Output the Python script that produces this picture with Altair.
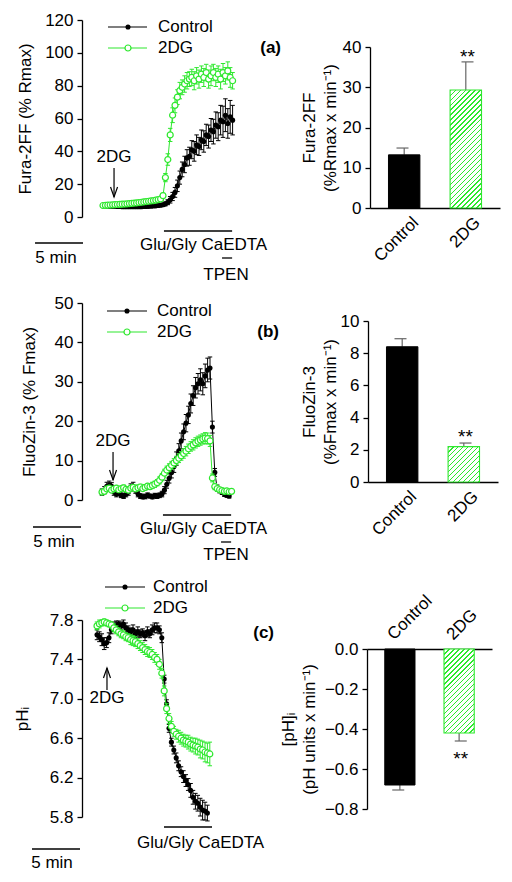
import altair as alt
import numpy as np
import pandas as pd

FONT = "Liberation Sans"
GREEN = "#2ee82e"
FS = 17
M = 8            # page margin (page px -> plot px)
W, H = 496, 866
DT = 0.25        # sampling interval of the traces (min)

# ---------------- (a) Fura-2FF (% Rmax) ----------------
a_ctrl = [6.8, 6.7, 6.6, 6.6, 6.5, 6.5, 6.4, 6.4, 6.3, 6.3, 6.3, 6.2, 6.2, 6.2, 6.2, 6.3, 6.3, 6.4, 6.4, 6.5,
          6.6, 6.7, 6.8, 7.0, 7.2,
          7.5, 8.0, 9.0, 10.5, 12.5, 15, 19, 24, 29, 32, 36, 37, 41, 40, 44, 43, 47, 46, 50, 49,
          53, 52, 56, 55, 59, 58, 62, 57, 61, 59]
a_ctrl_err = [0.5, 0.6, 0.5, 0.6, 0.5, 0.5, 0.6, 0.5, 0.6, 0.5, 0.5, 0.6, 0.5, 0.6, 0.5, 0.5, 0.6, 0.5, 0.6, 0.6,
              0.7, 0.7, 0.8, 0.8, 0.9,
              1.0, 1.2, 1.5, 2.0, 2.5, 3.0, 3.5, 4.0, 4.5, 5.0, 5.0, 5.5, 5.5, 6.0, 6.0, 5.5, 6.0, 6.5, 6.5, 7.0,
              7.0, 7.5, 8.0, 8.5, 9.0, 9.5, 10, 9.0, 10, 9.0]
a_dg = [7.0, 7.1, 7.2, 7.3, 7.4, 7.5, 7.6, 7.7, 7.8, 7.9, 8.0, 8.2, 8.3, 8.5, 8.6, 8.8, 9.0, 9.2, 9.4, 9.6,
        9.8, 10.0, 10.3, 10.6, 11.0,
        13, 24, 35, 50, 62, 68, 73, 77, 79, 81, 83, 84, 85, 83, 86, 84, 87, 85, 88, 84,
        86, 88, 85, 87, 84, 88, 86, 89, 85, 83]
a_dg_err = [0.5, 0.5, 0.6, 0.5, 0.6, 0.5, 0.6, 0.6, 0.5, 0.6, 0.6, 0.7, 0.6, 0.7, 0.7, 0.6, 0.7, 0.7, 0.8, 0.7,
            0.8, 0.8, 0.9, 0.9, 1.0,
            1.5, 2.5, 3.5, 4.0, 4.5, 4.5, 4.5, 5.0, 4.5, 5.0, 5.0, 4.5, 5.0, 5.5, 5.0, 5.5, 5.0, 5.5, 5.0, 5.5,
            6.0, 5.0, 5.5, 5.0, 6.0, 5.5, 5.0, 5.5, 6.0, 5.0]

# ---------------- (b) FluoZin-3 (% Fmax) ----------------
b_ctrl = [2.0, 2.5, 3.5, 3.8, 3.5, 2.0, 1.5, 1.8, 1.2, 1.0, 1.5, 2.0, 3.2, 3.5, 2.5, 1.5, 1.0, 0.8, 0.9, 1.2,
          1.0, 0.8, 1.1, 1.0, 1.2,
          1.5, 2.5, 4.0, 5.5, 7.0, 8.5, 10.5, 12.5, 15.0, 17.3, 19.5, 21.6, 24.5, 26.5, 28.5, 29.5, 30.5,
          29.5, 31.5, 33.0, 33.5, 18.5, 7.0, 3.0, 2.5, 2.0, 1.5, 1.2, 1.0]
b_ctrl_err = [0.8, 0.9, 1.0, 1.0, 0.9, 0.8, 0.7, 0.7, 0.6, 0.6, 0.7, 0.8, 0.9, 1.0, 0.8, 0.7, 0.6, 0.5, 0.6, 0.6,
              0.5, 0.5, 0.6, 0.6, 0.6,
              0.7, 0.9, 1.0, 1.2, 1.4, 1.5, 1.7, 1.8, 2.0, 2.0, 2.2, 2.2, 2.4, 2.5, 2.6, 2.6, 2.8, 2.8, 3.0,
              3.0, 2.8, 1.5, 1.0, 0.8, 0.7, 0.6, 0.6, 0.5, 0.5]
b_dg = [2.0, 2.2, 2.8, 3.0, 2.5, 2.8, 3.0, 2.6, 2.9, 3.1, 2.7, 2.5, 3.0, 3.2, 2.8, 3.1, 3.3, 2.9, 3.2, 3.5,
        3.4, 3.7, 4.0, 4.4, 5.0,
        5.8, 6.8, 7.6, 8.2, 8.8, 9.4, 10.0, 10.6, 11.2, 11.8, 12.4, 13.0, 13.6, 14.0, 14.5, 14.9, 15.2, 15.5,
        15.7, 15.6, 15.0, 5.6, 3.4, 2.9, 2.6, 2.4, 2.2, 2.3, 2.1, 2.2]
b_dg_err = [0.5, 0.6, 0.6, 0.7, 0.6, 0.6, 0.7, 0.6, 0.6, 0.7, 0.6, 0.6, 0.7, 0.7, 0.6, 0.7, 0.7, 0.6, 0.7, 0.7,
            0.7, 0.8, 0.8, 0.8, 0.9,
            0.9, 1.0, 1.0, 1.0, 1.0, 1.1, 1.1, 1.1, 1.1, 1.2, 1.2, 1.2, 1.2, 1.3, 1.3, 1.3, 1.3, 1.3, 1.4, 1.4,
            1.4, 1.0, 0.8, 0.7, 0.6, 0.6, 0.6, 0.5, 0.5, 0.5]

# ---------------- (c) pHi ----------------
c_ctrl = [7.65, 7.63, 7.6, 7.56, 7.57, 7.62, 7.7, 7.74, 7.75, 7.76, 7.74, 7.76, 7.72, 7.7, 7.68, 7.7, 7.66, 7.68,
          7.66, 7.67, 7.64, 7.68, 7.66, 7.7, 7.72,
          7.72, 7.7, 7.62, 7.2, 6.95, 6.7, 6.56, 6.48, 6.4, 6.32, 6.26, 6.21, 6.17, 6.13, 6.07, 6.0, 5.96, 5.94,
          5.9, 5.87, 5.86, 5.84]
c_ctrl_err = [0.05, 0.05, 0.06, 0.06, 0.05, 0.05, 0.04, 0.04, 0.04, 0.03, 0.04, 0.04, 0.05, 0.04, 0.04, 0.05,
              0.04, 0.05, 0.04, 0.04, 0.05, 0.05, 0.04, 0.05, 0.05,
              0.05, 0.04, 0.05, 0.04, 0.04, 0.04, 0.04, 0.04, 0.05, 0.05, 0.05, 0.06, 0.06, 0.06, 0.07, 0.07,
              0.08, 0.08, 0.09, 0.1, 0.09, 0.08]
c_dg = [7.74, 7.76, 7.77, 7.78, 7.77, 7.76, 7.75, 7.72, 7.7, 7.68, 7.66, 7.65, 7.63, 7.62, 7.6, 7.59, 7.58, 7.56,
        7.54, 7.52, 7.5, 7.48, 7.47, 7.45, 7.42,
        7.4, 7.35, 7.26, 7.08, 6.9, 6.8, 6.72, 6.67, 6.64, 6.62, 6.6, 6.58, 6.57, 6.56, 6.54, 6.53, 6.52, 6.51,
        6.49, 6.48, 6.46, 6.45, 6.44]
c_dg_err = [0.04, 0.04, 0.03, 0.03, 0.03, 0.03, 0.03, 0.04, 0.04, 0.04, 0.04, 0.04, 0.04, 0.04, 0.05, 0.05,
            0.05, 0.05, 0.05, 0.05, 0.05, 0.05, 0.05, 0.05, 0.05,
            0.05, 0.05, 0.05, 0.05, 0.05, 0.05, 0.05, 0.05, 0.05, 0.06, 0.06, 0.06, 0.06, 0.07, 0.07, 0.07,
            0.08, 0.08, 0.09, 0.09, 0.1, 0.1, 0.12]

# ---------------- bar summaries ----------------
bar_cats = ["Control", "2DG"]
a_bar, a_bar_err = [13.2, 29.3], [1.7, 7.0]
b_bar, b_bar_err = [8.4, 2.2], [0.5, 0.22]
c_bar, c_bar_err = [-0.68, -0.42], [0.025, 0.04]

a_ticks = [0, 20, 40, 60, 80, 100, 120]
b_ticks = [0, 10, 20, 30, 40, 50]
c_ticks = [5.8, 6.2, 6.6, 7.0, 7.4, 7.8]
ab_ticks = [0, 10, 20, 30, 40]
bb_ticks = [0, 2, 4, 6, 8, 10]
cb_ticks = [-0.8, -0.6, -0.4, -0.2, 0.0]

layers = []


def tscale(t0px):
    return alt.Scale(domain=[0, 10], range=[t0px - M, t0px - M + 96])


def lin(dom, px):
    return alt.Scale(domain=dom, range=[px[0] - M, px[1] - M], nice=False, zero=False)


def trace(X, Y, vals, errs, color, filled):
    df = pd.DataFrame({"t": np.arange(len(vals)) * DT, "v": vals, "e": errs})
    df["lo"] = df["v"] - df["e"]
    df["hi"] = df["v"] + df["e"]
    b = alt.Chart(df)
    x = alt.X("t:Q", scale=X, axis=None)
    out = [
        b.mark_rule(color=color, strokeWidth=1).encode(x=x, y=alt.Y("lo:Q", scale=Y, axis=None), y2="hi:Q"),
        b.mark_point(shape="stroke", size=20, color=color, strokeWidth=1, opacity=1).encode(
            x=x, y=alt.Y("hi:Q", scale=Y, axis=None)),
        b.mark_point(shape="stroke", size=20, color=color, strokeWidth=1, opacity=1).encode(
            x=x, y=alt.Y("lo:Q", scale=Y, axis=None)),
        b.mark_line(color=color, strokeWidth=1).encode(x=x, y=alt.Y("v:Q", scale=Y, axis=None)),
    ]
    if filled:
        out.append(b.mark_point(filled=True, color=color, size=26, opacity=1).encode(
            x=x, y=alt.Y("v:Q", scale=Y, axis=None)))
    else:
        out.append(b.mark_point(filled=True, fill="white", stroke=color, strokeWidth=1.2, size=36,
                                opacity=1).encode(x=x, y=alt.Y("v:Q", scale=Y, axis=None)))
    return out


def px_text(rows, align="left", bold=False, size=FS):
    df = pd.DataFrame(rows, columns=["x", "y", "s"])
    df["x"] = df["x"] - M
    df["y"] = df["y"] - M
    return alt.Chart(df).mark_text(align=align, baseline="middle", font=FONT, fontSize=size,
                                   fontWeight="bold" if bold else "normal", color="black").encode(
        x=alt.X("x:Q", scale=None), y=alt.Y("y:Q", scale=None), text="s:N")


def legend(xl, xr, xm, xt, yc, yg):
    d = pd.DataFrame({"x": [xl - M], "x2": [xr - M], "xm": [xm - M], "yc": [yc - M], "yg": [yg - M]})
    b = alt.Chart(d)
    return [
        b.mark_rule(color="black", strokeWidth=1.2).encode(x=alt.X("x:Q", scale=None), x2="x2:Q",
                                                            y=alt.Y("yc:Q", scale=None)),
        b.mark_rule(color=GREEN, strokeWidth=1.2).encode(x=alt.X("x:Q", scale=None), x2="x2:Q",
                                                          y=alt.Y("yg:Q", scale=None)),
        b.mark_point(filled=True, color="black", size=26, opacity=1).encode(
            x=alt.X("xm:Q", scale=None), y=alt.Y("yc:Q", scale=None)),
        b.mark_point(filled=True, fill="white", stroke=GREEN, strokeWidth=1.2, size=36, opacity=1).encode(
            x=alt.X("xm:Q", scale=None), y=alt.Y("yg:Q", scale=None)),
        px_text([(xt, yc, "Control"), (xt, yg, "2DG")], "left"),
    ]


def t_rule(X, t0, t1, ypx):
    d = pd.DataFrame({"a": [t0], "b": [t1]})
    return alt.Chart(d).mark_rule(color="black", strokeWidth=1.3).encode(
        x=alt.X("a:Q", scale=X, axis=None), x2="b:Q", y=alt.value(ypx - M))


def arrow(X, t, y_tail, y_tip, label_y):
    d = pd.DataFrame({"a": [t], "s": ["2DG"]})
    b = alt.Chart(d)
    down = y_tip > y_tail
    path = "M-0.35,-1L0,0L0.35,-1" if down else "M-0.35,1L0,0L0.35,1"
    return [
        b.mark_rule(color="black", strokeWidth=1.2).encode(
            x=alt.X("a:Q", scale=X, axis=None), y=alt.value(y_tail - M), y2=alt.value(y_tip - M)),
        b.mark_point(shape=path, filled=False, color="black", strokeWidth=1.2, size=400, opacity=1).encode(
            x=alt.X("a:Q", scale=X, axis=None), y=alt.value(y_tip - M)),
        b.mark_text(align="center", baseline="middle", font=FONT, fontSize=FS, color="black").encode(
            x=alt.X("a:Q", scale=X, axis=None), y=alt.value(label_y - M), text="s:N"),
    ]


def yaxis_layer(Y, dom0, axis_px, ticks, fmt, title, title_cx, title_cy):
    d = pd.DataFrame({"v": [dom0]})
    return alt.Chart(d).mark_point(opacity=0).encode(
        y=alt.Y("v:Q", scale=Y, axis=alt.Axis(
            orient="left", offset=-(axis_px - M), values=ticks, format=fmt, title=title,
            titleX=title_cx - axis_px, titleY=title_cy - M, titleBaseline="middle", titleAlign="center",
            titleAngle=270, tickSize=5, labelPadding=4, grid=False, labelOverlap=False)))


def ts_panel(t0px, ydom, ypx, axis_px, ticks, fmt, title, title_cx, ctrl, ctrl_e, dg, dg_e):
    X = tscale(t0px)
    Y = lin(ydom, ypx)
    L = [yaxis_layer(Y, ydom[0], axis_px, ticks, fmt, title, title_cx, (ypx[0] + ypx[1]) / 2)]
    L += trace(X, Y, ctrl, ctrl_e, "black", True)
    L += trace(X, Y, dg, dg_e, GREEN, False)
    return X, L


def hatch(w, h, period=3.5, lw=1.0):
    s = (w + h) / (w * w + h * h)
    ext = (w + h) / np.sqrt(2)
    per = period / ext
    f = lw / ext
    stops = []
    k = 0
    while k * per < 1:
        t0 = k * per
        stops += [{"offset": min(t0, 1), "color": GREEN}, {"offset": min(t0 + f, 1), "color": GREEN},
                  {"offset": min(t0 + f, 1), "color": "white"}, {"offset": min(t0 + per, 1), "color": "white"}]
        k += 1
    return {"gradient": "linear", "x1": 0, "y1": 0, "x2": s * w, "y2": s * h, "stops": stops}


def bar_panel(xr, ydom, ypx, axis_px, vals, errs, ticks, fmt, title, title_cx, x_orient, star_dy):
    pi_, po_ = 0.49, 0.3
    XS = alt.Scale(domain=bar_cats, range=[xr[0] - M, xr[1] - M], paddingInner=pi_, paddingOuter=po_)
    Y = lin(ydom, ypx)
    step = (xr[1] - xr[0]) / (2 - pi_ + 2 * po_)
    bw = step * (1 - pi_)
    ppu = abs(ypx[0] - ypx[1]) / (ydom[1] - ydom[0])
    sign = [1 if v >= 0 else -1 for v in vals]
    df = pd.DataFrame({"cat": bar_cats, "v": vals, "e": errs, "zero": [0, 0]})
    df["tip"] = df["v"] + np.array(sign) * df["e"]
    zero_px = ypx[0] + (0 - ydom[0]) * (ypx[1] - ypx[0]) / (ydom[1] - ydom[0])
    if x_orient == "bottom":
        xoff = (zero_px - M) - H
    else:
        xoff = -(zero_px - M)
    xaxis = alt.Axis(orient=x_orient, offset=xoff, labelAngle=315, ticks=False, title=None,
                     labelPadding=6, labelOffset=6 if x_orient == "bottom" else -3, grid=False)
    yaxis = alt.Axis(orient="left", offset=-(axis_px - M), values=ticks, format=fmt, title=title,
                     titleX=title_cx - axis_px, titleY=(ypx[0] + ypx[1]) / 2 - M, titleBaseline="middle",
                     titleAlign="center", titleAngle=270, titleLineHeight=21, tickSize=5, labelPadding=4,
                     grid=False, labelOverlap=False)
    ctrl = alt.Chart(df[df.cat == "Control"])
    dg = alt.Chart(df[df.cat == "2DG"])
    allb = alt.Chart(df)
    x = alt.X("cat:N", scale=XS, axis=None)
    L = [
        allb.mark_rule(color="#666", strokeWidth=1.2).encode(x=x, y=alt.Y("v:Q", scale=Y, axis=None), y2="tip:Q"),
        allb.mark_point(shape="stroke", size=144, color="#666", strokeWidth=1.2, opacity=1).encode(
            x=x, y=alt.Y("tip:Q", scale=Y, axis=None)),
        ctrl.mark_bar(color="black", stroke="black").encode(
            x=alt.X("cat:N", scale=XS, axis=xaxis), y=alt.Y("v:Q", scale=Y, axis=yaxis), y2="zero:Q"),
        dg.mark_bar(fill=hatch(bw, abs(vals[1]) * ppu), stroke=GREEN, strokeWidth=1.1).encode(
            x=x, y=alt.Y("v:Q", scale=Y, axis=None), y2="zero:Q"),
        dg.mark_text(text="**", font=FONT, fontSize=19, baseline="alphabetic", align="center", dy=star_dy,
                     color="black").encode(x=x, y=alt.Y("tip:Q", scale=Y, axis=None)),
    ]
    return L


# ===== row (a) =====
Xa, L = ts_panel(103, [0, 120], [217, 20], 82, a_ticks, "d", "Fura-2FF (% Rmax)", 25,
                 a_ctrl, a_ctrl_err, a_dg, a_dg_err)
layers += L
layers += arrow(Xa, 1.15, 168, 197, 157)
layers.append(t_rule(Xa, -7.08, -2.08, 243))
layers.append(t_rule(Xa, 6.35, 13.45, 231))
layers.append(t_rule(Xa, 12.4, 13.45, 258))
layers += legend(108, 147, 128, 158, 27, 48)
layers.append(px_text([(140, 245, "Glu/Gly CaEDTA")], "left"))
layers.append(px_text([(226, 275, "TPEN"), (56, 258, "5 min")], "center"))
layers.append(px_text([(281, 48, "(a)")], "right", bold=True))
layers += bar_panel([370, 500], [0, 40], [208, 47], 370, a_bar, a_bar_err, ab_ticks, "d",
                    ["Fura-2FF", "(%Rmax x min\u207b\u00b9)"], 309, "bottom", 1)

# ===== row (b) =====
Xb, L = ts_panel(102, [0, 50], [500, 303], 82, b_ticks, "d", "FluoZin-3 (% Fmax)", 29,
                 b_ctrl, b_ctrl_err, b_dg, b_dg_err)
layers += L
layers += arrow(Xb, 1.15, 452, 480, 441)
layers.append(t_rule(Xb, -7.19, -2.19, 527))
layers.append(t_rule(Xb, 6.35, 13.45, 515))
layers.append(t_rule(Xb, 12.4, 13.45, 542))
layers += legend(107, 147, 127, 157, 311, 332)
layers.append(px_text([(140, 529, "Glu/Gly CaEDTA")], "left"))
layers.append(px_text([(226, 555, "TPEN"), (54, 542, "5 min")], "center"))
layers.append(px_text([(279, 332, "(b)")], "right", bold=True))
layers += bar_panel([368, 498], [0, 10], [482, 321], 368, b_bar, b_bar_err, bb_ticks, "d",
                    ["FluoZin-3", "(%Fmax x min\u207b\u00b9)"], 309, "bottom", 0)

# ===== row (c) =====
Xc, L = ts_panel(97, [5.8, 7.8], [817, 620], 82, c_ticks, ".1f", "pH\u1d62", 22,
                 c_ctrl, c_ctrl_err, c_dg, c_dg_err)
layers += L
layers += arrow(Xc, 1.04, 690, 668, 698)
layers.append(t_rule(Xc, -6.77, -1.77, 849))
layers.append(t_rule(Xc, 6.98, 11.98, 827))
layers += legend(105, 145, 125, 153, 587, 608)
layers.append(px_text([(137, 843, "Glu/Gly CaEDTA")], "left"))
layers.append(px_text([(52, 863, "5 min")], "center"))
layers.append(px_text([(274, 633, "(c)")], "right", bold=True))
layers += bar_panel([367, 492], [-0.8, 0], [809, 649], 367, c_bar, c_bar_err, cb_ticks, ".1f",
                    ["[pH]\u1d62", "(pH units x min\u207b\u00b9)"], 288, "top", 24)

chart = alt.layer(*layers).resolve_scale(x="independent", y="independent").properties(
    width=W, height=H, autosize=alt.AutoSizeParams(type="none"), padding=0
).configure_view(stroke=None).configure_axis(
    labelFont=FONT, labelFontSize=FS, titleFont=FONT, titleFontSize=FS, titleFontWeight="normal",
    labelColor="black", titleColor="black", domainColor="black", tickColor="black",
    domainWidth=1.3, tickWidth=1.3
)

chart.save("out.html", embed_options={"renderer": "svg", "actions": False})
